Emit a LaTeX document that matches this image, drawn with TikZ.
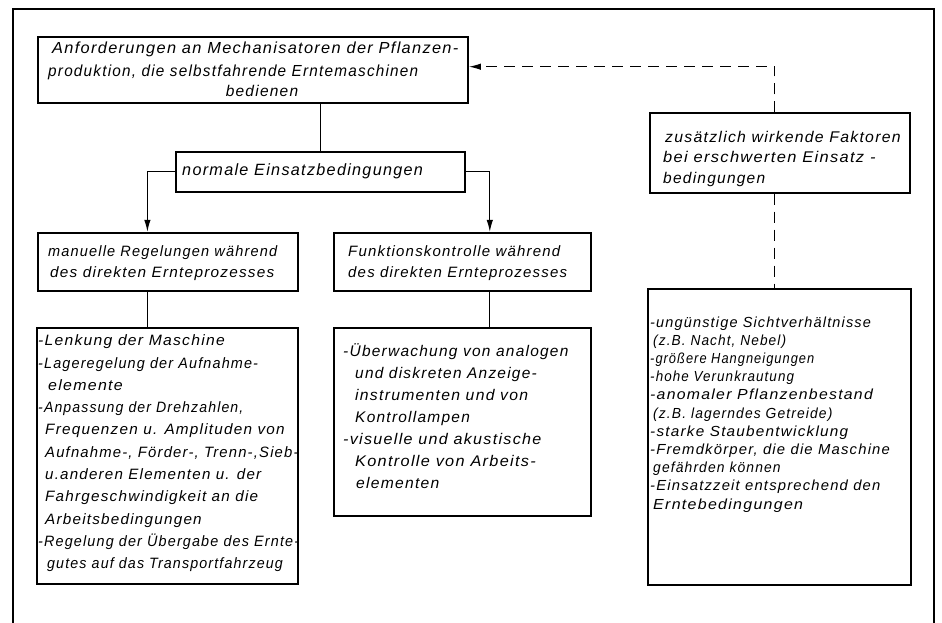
\documentclass[tikz,border=0pt]{standalone}
\usepackage{graphicx}
\usepackage{fontspec}
\newfontfamily\din{Liberation Sans}[LetterSpace=8]
\usetikzlibrary{arrows.meta,calc}
\newlength\tlnat
\newcommand\tline[6]{\pgfmathsetmacro\tly{#4}\node[txt=#5] (#1) at (#2,\tly) {\settowidth\tlnat{#6}\pgfmathsetmacro\tlf{0.35+0.65*(#3-#2)/\tlnat}\scalebox{\tlf}[1]{#6}};}
\begin{document}
\begin{tikzpicture}[x=1pt,y=-1pt,
  box/.style={draw,line width=1.8pt,rectangle,inner sep=0pt},
  conn/.style={line width=1.1pt},
  dconn/.style={line width=1.1pt,dash pattern=on 11pt off 7pt},
  tip/.style={-{Latex[length=12pt,width=6.5pt]}},
  txt/.style={anchor=base west,inner sep=0pt,font=\din\itshape\fontsize{#1}{#1}\selectfont},
  txt/.default=15,
  ctxt/.style={anchor=base,inner sep=0pt,font=\din\itshape\fontsize{#1}{#1}\selectfont},
]
\useasboundingbox (0,0) rectangle (942,622);
\fill[white] (0,0) rectangle (942,622);
\clip (0,0) rectangle (942,622);
% outer frame
\draw[line width=1.8pt] (12.7,640) -- (12.7,9.3) -- (934,9.3) -- (934,640);

% boxes
\node[box,minimum width=430pt,minimum height=66pt] (b1) at (253,70.3) {};
\node[box,minimum width=289.3pt,minimum height=40pt] (norm) at (320.35,171.7) {};
\node[box,minimum width=260pt,minimum height=58pt] (man) at (167.7,261.7) {};
\node[box,minimum width=256.4pt,minimum height=58pt] (fun) at (462.5,261.7) {};
\node[box,minimum width=261.6pt,minimum height=255.7pt] (lenk) at (167.5,456.15) {};
\node[box,minimum width=256.4pt,minimum height=187.7pt] (ueb) at (462.5,422.15) {};
\node[box,minimum width=260pt,minimum height=79.4pt] (zus) at (780,153) {};
\node[box,minimum width=262.7pt,minimum height=295.7pt] (sicht) at (779.65,437.15) {};

% texts
\tline{t1a}{52}{463}{53.5}{16}{Anforderungen an Mechanisatoren der Pflanzen-}
\tline{t1b}{48}{409}{76.5}{16}{produktion, die selbstfahrende Erntemaschinen}
\node[ctxt=15.5] (t1c) at (262,96) {bedienen};

\tline{tn}{182}{422}{175}{16.3}{normale Einsatzbedingungen}

\tline{tm1}{48}{273}{256.7}{15}{manuelle Regelungen während}
\tline{tm2}{50}{277}{277.3}{15}{des direkten Ernteprozesses}
\tline{tf1}{348}{560}{256.7}{15}{Funktionskontrolle während}
\tline{tf2}{348}{567}{277.3}{15}{des direkten Ernteprozesses}

\foreach \xa/\xb/\t [count=\i] in {38/229/{-Lenkung der Maschine},38/253/{-Lageregelung der Aufnahme-},48/125/{elemente},38/236/{-Anpassung der Drehzahlen,},45/287/{Frequenzen u. Amplituden von},45/297/{Aufnahme-, Förder-, Trenn-,Sieb-},45/262/{u.anderen Elementen u. der},45/260/{Fahrgeschwindigkeit an die},45/203/{Arbeitsbedingungen},38/293/{-Regelung der Übergabe des Ernte-},47/276/{gutes auf das Transportfahrzeug}}
  {\tline{tl\i}{\xa}{\xb}{345.7+22.3*(\i-1)}{15}{\t}}

\foreach \xa/\xb/\t [count=\i] in {343/569/{-Überwachung von analogen},355/537/{und diskreten Anzeige-},355/530/{instrumenten und von},355/470/{Kontrollampen},343/546/{-visuelle und akustische},355/541/{Kontrolle von Arbeits-},356/440/{elementen}}
  {\tline{tu\i}{\xa}{\xb}{356+22*(\i-1)}{15.4}{\t}}

\foreach \xa/\xb/\t [count=\i] in {665/903/{zusätzlich wirkende Faktoren},663/882/{bei erschwerten Einsatz -},663/765/{bedingungen}}
  {\tline{tz\i}{\xa}{\xb}{142.3+20.5*(\i-1)}{15.5}{\t}}

\foreach \xa/\xb/\t [count=\i] in {650/870/{-ungünstige Sichtverhältnisse},653/781/{(z.B. Nacht, Nebel)},650/802/{-größere Hangneigungen},650/787/{-hohe Verunkrautung},650/882/{-anomaler Pflanzenbestand},653/827/{(z.B. lagerndes Getreide)},650/853/{-starke Staubentwicklung},650/892/{-Fremdkörper, die die Maschine},653/777/{gefährden können},650/882/{-Einsatzzeit entsprechend den},653/810/{Erntebedingungen}}
  {\tline{ts\i}{\xa}{\xb}{327+18.2*(\i-1)}{14.6}{\t}}

% connectors
\draw[conn] (b1.south -| norm.north) -- (norm.north);
\draw[conn,tip] (norm.west) -| ([xshift=110.6pt]man.north west);
\draw[conn,tip] (norm.east) -| ([xshift=156.4pt]fun.north west);
\draw[conn] ([xshift=110.6pt]man.south west) -- ([xshift=110.6pt]man.south west |- lenk.north);
\draw[conn] ([xshift=156.4pt]fun.south west) -- ([xshift=156.4pt]fun.south west |- ueb.north);
\draw[dconn,tip] ([xshift=125.7pt]zus.north west) |- ([yshift=3.6pt]b1.east);
\draw[dconn] ([xshift=125.7pt]zus.south west) -- ([xshift=125.7pt]zus.south west |- sicht.north);
\end{tikzpicture}
\end{document}
